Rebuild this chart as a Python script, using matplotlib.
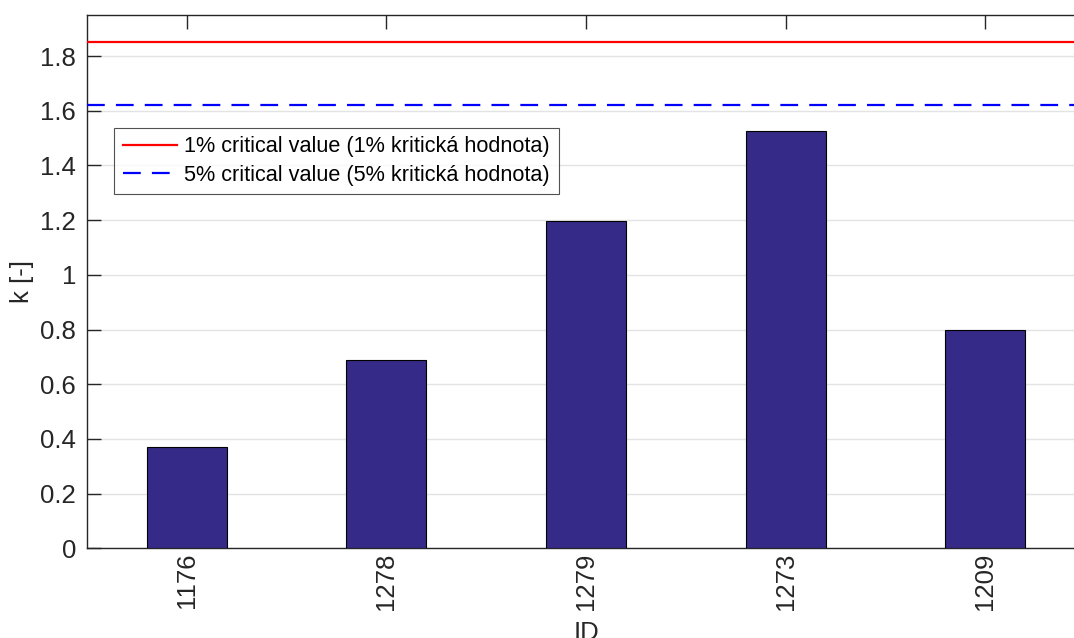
import numpy as np
import matplotlib
matplotlib.use('Agg')
import matplotlib.pyplot as plt
from matplotlib.ticker import FormatStrFormatter

# Data
ids = ['1176', '1278', '1279', '1273', '1209']
k_values = [0.371, 0.690, 1.197, 1.527, 0.797]
crit_1 = 1.851
crit_5 = 1.620

plt.rcParams['font.family'] = ['Liberation Sans', 'DejaVu Sans']

fig = plt.figure(figsize=(10.74, 6.38), dpi=100)
W, H = 1074, 638
left, right, top, bottom = 87, 1085, 15, 548.3
ax = fig.add_axes([left / W, (H - bottom) / H, (right - left) / W, (bottom - top) / H])

pos = np.arange(1, len(ids) + 1)
ax.bar(pos, k_values, width=0.4, color='#352a87', edgecolor='black', linewidth=0.8, zorder=3)

ax.axhline(crit_1, color='red', linewidth=1.6, zorder=4,
           label='1% critical value (1% kritická hodnota)')
ax.axhline(crit_5, color='blue', linewidth=1.6, linestyle=(0, (8, 5)), zorder=4,
           label='5% critical value (5% kritická hodnota)')

ax.set_xlim(0.5, 5.5)
ax.set_ylim(0, 1.95)
ax.set_xticks(pos)
ax.set_xticklabels(ids, rotation=90)
ax.set_yticks(np.arange(0, 1.81, 0.2))
ax.yaxis.set_major_formatter(FormatStrFormatter('%g'))

ax.grid(axis='y', color='#e3e3e3', linewidth=1.0, zorder=0)
ax.set_axisbelow(True)

for side in ['left', 'bottom', 'top', 'right']:
    ax.spines[side].set_color('#262626')
    ax.spines[side].set_linewidth(1.0)

ax.tick_params(axis='both', direction='in', length=10, width=1.0, colors='#262626',
               labelsize=18.5, top=True, right=False)
ax.tick_params(axis='x', pad=3)
ax.tick_params(axis='y', pad=8)

ax.set_ylabel('k [-]', fontsize=18.5, color='#262626')
ax.yaxis.set_label_coords(-0.053, 0.5)
ax.set_xlabel('ID', fontsize=18.5, color='#262626', va='top')
ax.xaxis.set_label_coords(0.5, -(621 - bottom) / (bottom - top))

leg = ax.legend(loc='upper left', bbox_to_anchor=(0.027, 0.789), borderaxespad=0,
                fontsize=15.6, frameon=True, fancybox=False, handlelength=2.5,
                handletextpad=0.35, borderpad=0.4, labelspacing=0.35)
leg.get_frame().set_edgecolor('#262626')
leg.get_frame().set_linewidth(0.8)

fig.savefig('out.png', dpi=100)
